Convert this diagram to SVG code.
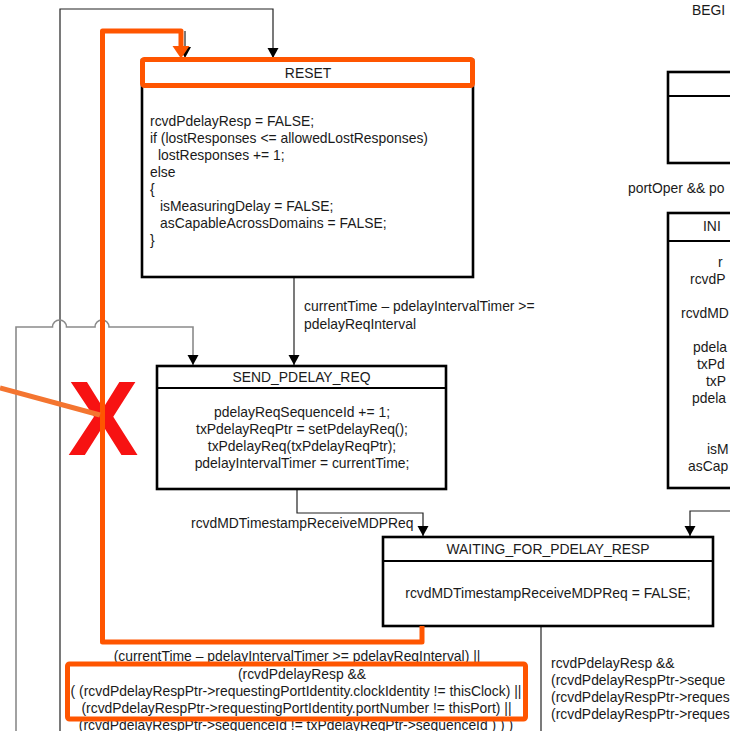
<svg xmlns="http://www.w3.org/2000/svg" width="730" height="731" viewBox="0 0 730 731">
  <defs>
    <marker id="arrow" markerWidth="12" markerHeight="12" refX="10" refY="5.5" orient="auto" markerUnits="userSpaceOnUse">
      <path d="M0,0 L10,5.5 L0,11 Z" fill="#000"/>
    </marker>
  </defs>
  <style>
    .t { font-family: "Liberation Sans", Arial, sans-serif; font-size: 13.9px; fill: #1a1a1a; }
    .c { text-anchor: middle; }
    .box { fill: #fff; stroke: #000; stroke-width: 2.6; }
    .hdr { stroke: #000; stroke-width: 2.2; }
    .wire { fill: none; stroke: #222; stroke-width: 1.2; }
    .wire-gray { fill: none; stroke: #8a8a8a; stroke-width: 1.6; }
    .hl { fill: none; stroke: #ff5500; stroke-width: 5; stroke-linejoin: round; }
  </style>
  <rect width="730" height="731" fill="#fff"/>

  <!-- connectors -->
  <g id="connectors">
    <!-- long return path on the far left into RESET -->
    <path class="wire" d="M60,731 L60,9 L273,9 L273,58" marker-end="url(#arrow)"/>
    <!-- second return into RESET (under the highlight) -->
    <line class="wire" x1="185" y1="31" x2="185" y2="48"/>
    <polygon points="179,47 191,47 185,58" fill="#000"/>
    <!-- RESET -> SEND_PDELAY_REQ -->
    <path class="wire" d="M294,278 L294,365" marker-end="url(#arrow)"/>
    <!-- gray loop back into SEND_PDELAY_REQ with line hops -->
    <path class="wire-gray" d="M16,731 L16,327 L52.5,327 A7,7 0 0 1 66.5,327 L95,327 A7,7 0 0 1 109,327 L193,327 L193,365" marker-end="url(#arrow)"/>
    <!-- SEND_PDELAY_REQ -> WAITING_FOR_PDELAY_RESP -->
    <path class="wire" d="M297,489 L297,513 L423,513 L423,536" marker-end="url(#arrow)"/>
    <!-- entry from the right into WAITING_FOR_PDELAY_RESP -->
    <path class="wire" d="M730,511 L690,511 L690,536" marker-end="url(#arrow)"/>
    <!-- exit from WAITING_FOR_PDELAY_RESP downward -->
    <path class="wire" d="M541,626 L541,731"/>
  </g>

  <!-- RESET -->
  <g id="reset">
    <rect class="box" x="142" y="60" width="331" height="217"/>
    <line class="hdr" x1="142" y1="86" x2="473" y2="86"/>
    <text class="t c" x="308" y="78">RESET</text>
    <text class="t" x="150" y="125.5">rcvdPdelayResp = FALSE;</text>
    <text class="t" x="150" y="142.5">if (lostResponses &lt;= allowedLostResponses)</text>
    <text class="t" x="158" y="159.5">lostResponses += 1;</text>
    <text class="t" x="150" y="176.5">else</text>
    <text class="t" x="150" y="193.5">{</text>
    <text class="t" x="160" y="210.5">isMeasuringDelay = FALSE;</text>
    <text class="t" x="160" y="227.5">asCapableAcrossDomains = FALSE;</text>
    <text class="t" x="150" y="244.5">}</text>
  </g>

  <!-- SEND_PDELAY_REQ -->
  <g id="send_pdelay_req">
    <rect class="box" x="157" y="366" width="289" height="123"/>
    <line class="hdr" x1="157" y1="388" x2="446" y2="388"/>
    <text class="t c" x="301.5" y="382">SEND_PDELAY_REQ</text>
    <text class="t c" x="302" y="416.5">pdelayReqSequenceId += 1;</text>
    <text class="t c" x="302" y="433.5">txPdelayReqPtr = setPdelayReq();</text>
    <text class="t c" x="302" y="450.5">txPdelayReq(txPdelayReqPtr);</text>
    <text class="t c" x="302" y="467.5">pdelayIntervalTimer = currentTime;</text>
  </g>

  <!-- WAITING_FOR_PDELAY_RESP -->
  <g id="waiting_for_pdelay_resp">
    <rect class="box" x="383" y="537" width="330" height="89"/>
    <line class="hdr" x1="383" y1="561" x2="713" y2="561"/>
    <text class="t c" x="548" y="554">WAITING_FOR_PDELAY_RESP</text>
    <text class="t c" x="548" y="598">rcvdMDTimestampReceiveMDPReq = FALSE;</text>
  </g>

  <!-- state box at the top right -->
  <g id="begin_state">
    <rect class="box" x="668" y="72" width="70" height="91"/>
    <line class="hdr" x1="668" y1="96" x2="730" y2="96"/>
  </g>

  <!-- INITIAL state (right edge) -->
  <g id="initial">
    <rect class="box" x="668" y="213" width="70" height="275"/>
    <line class="hdr" x1="668" y1="241" x2="730" y2="241"/>
    <text class="t" x="703" y="231">INI</text>
    <text class="t" x="718" y="266.5">r</text>
    <text class="t" x="690" y="283.5">rcvdP</text>
    <text class="t" x="681" y="317.5">rcvdMD</text>
    <text class="t" x="693" y="351.5">pdela</text>
    <text class="t" x="697" y="368.5">txPd</text>
    <text class="t" x="706" y="385.5">txP</text>
    <text class="t" x="692" y="402.5">pdela</text>
    <text class="t" x="707" y="453.5">isM</text>
    <text class="t" x="688" y="470.5">asCap</text>
  </g>

  <!-- transition labels -->
  <g id="labels">
    <text class="t" x="692" y="15">BEGI</text>
    <text class="t" x="628" y="193">portOper &amp;&amp; po</text>
    <text class="t" x="304" y="311">currentTime – pdelayIntervalTimer &gt;=</text>
    <text class="t" x="304" y="328.5">pdelayReqInterval</text>
    <text class="t" x="191" y="527.5">rcvdMDTimestampReceiveMDPReq</text>
    <text class="t c" x="297" y="661">(currentTime – pdelayIntervalTimer &gt;= pdelayReqInterval) ||</text>
    <text class="t c" x="302" y="678.5">(rcvdPdelayResp &amp;&amp;</text>
    <text class="t c" x="296" y="695.5">( (rcvdPdelayRespPtr-&gt;requestingPortIdentity.clockIdentity != thisClock) ||</text>
    <text class="t c" x="296.5" y="712.5">(rcvdPdelayRespPtr-&gt;requestingPortIdentity.portNumber != thisPort) ||</text>
    <text class="t c" x="296" y="729.5">(rcvdPdelayRespPtr-&gt;sequenceId != txPdelayReqPtr-&gt;sequenceId ) ) )</text>
    <text class="t" x="551" y="667.5">rcvdPdelayResp &amp;&amp;</text>
    <text class="t" x="551" y="684.5">(rcvdPdelayRespPtr-&gt;seque</text>
    <text class="t" x="551" y="701.5">(rcvdPdelayRespPtr-&gt;reques</text>
    <text class="t" x="551" y="718.5">(rcvdPdelayRespPtr-&gt;reques</text>
  </g>

  <!-- highlight markup -->
  <g id="markup">
    <text x="103" y="455" text-anchor="middle" font-family="Liberation Sans, Arial, sans-serif" font-weight="bold" font-size="106" fill="#f71212">X</text>
    <path class="hl" d="M422,626 L422,642 L102.5,642 L102.5,31 L181,31 L181,47"/>
    <polygon points="172.5,46 189.5,46 181,58.5" fill="#ff5500"/>
    <rect class="hl" x="142.5" y="59.5" width="330" height="26" rx="2"/>
    <rect class="hl" x="67.5" y="664" width="458" height="55" rx="2"/>
    <line x1="0" y1="388" x2="100" y2="415" stroke="#f47530" stroke-width="5"/>
  </g>
</svg>
